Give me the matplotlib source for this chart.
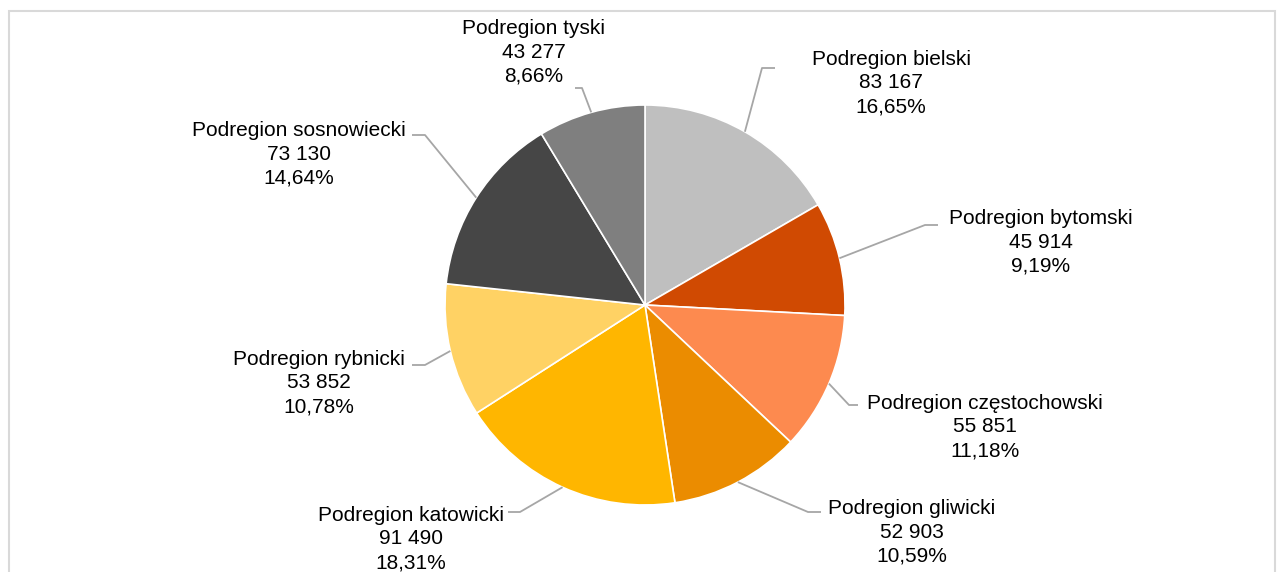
import numpy as np
import matplotlib.pyplot as plt
from matplotlib.patches import Rectangle

# Data
regions = ['Podregion bielski', 'Podregion bytomski', 'Podregion częstochowski',
           'Podregion gliwicki', 'Podregion katowicki', 'Podregion rybnicki',
           'Podregion sosnowiecki', 'Podregion tyski']
values = [83167, 45914, 55851, 52903, 91490, 53852, 73130, 43277]
colors = ['#BFBFBF', '#D04A02', '#FD8A4F', '#EB8C00', '#FFB600', '#FFD264',
          '#464646', '#7F7F7F']

# label layout (pixel coords: text centre, leader elbow, leader end)
text_pos = [(891, 83), (1041, 242), (985, 427), (912, 532), (411, 539),
            (319, 383), (299, 154), (534, 52)]
elbow = [(762, 68), (925, 225), (849, 405), (808, 512), (520, 512),
         (425, 365), (425, 135), (582, 88)]
elbow_end = [(775, 68), (938, 225), (858, 405), (821, 512), (508, 512),
             (412, 365), (412, 135), (575, 88)]

W, H = 1283, 572
CX, CY, R = 645, 305, 200

plt.rcParams['font.family'] = ['Liberation Sans', 'DejaVu Sans']

fig = plt.figure(figsize=(W / 100, H / 100), dpi=100)
ax = fig.add_axes([0, 0, 1, 1])

wedges, _ = ax.pie(values, colors=colors, startangle=90, counterclock=False,
                   center=(CX, H - CY), radius=R,
                   wedgeprops=dict(edgecolor='white', linewidth=1.2))
ax.set_aspect('auto')
ax.set_xlim(0, W)
ax.set_ylim(0, H)
ax.axis('off')

total = sum(values)


def fmt_int(v):
    return f'{v:,}'.replace(',', ' ')


for i, w in enumerate(wedges):
    mid = np.deg2rad((w.theta1 + w.theta2) / 2)
    ex, ey = CX + R * np.cos(mid), (H - CY) + R * np.sin(mid)
    bx, by = elbow[i]
    cx, cy = elbow_end[i]
    ax.plot([ex, bx, cx], [ey, H - by, H - cy], color='#A6A6A6', lw=1.3,
            solid_capstyle='butt')
    pct = f'{100 * values[i] / total:.2f}'.replace('.', ',') + '%'
    tx, ty = text_pos[i]
    ax.text(tx, H - ty, f'{regions[i]}\n{fmt_int(values[i])}\n{pct}',
            ha='center', va='center', fontsize=15, color='#000000',
            linespacing=1.33)

# outer frame
ax.add_patch(Rectangle((8.5, -20), 1266, H - 11 + 20, fill=False,
                       edgecolor='#D9D9D9', lw=1.5, clip_on=False))

fig.savefig('out.png', dpi=100)
